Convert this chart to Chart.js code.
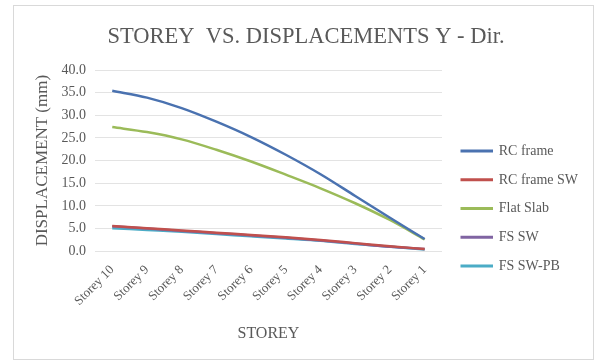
<!DOCTYPE html>
<html>
<head>
<meta charset="utf-8">
<script src="https://cdn.jsdelivr.net/npm/chart.js@4/dist/chart.umd.min.js"></script>
<style>
  html, body { margin: 0; padding: 0; background: #fff; }
  #box { position: absolute; left: 13px; top: 5px; width: 581px; height: 355px; border: 1px solid #d9d9d9; box-sizing: border-box; }
</style>
</head>
<body>
<div id="box"><canvas id="chart"></canvas></div>
<script>
const storeys = ['Storey 10', 'Storey 9', 'Storey 8', 'Storey 7', 'Storey 6', 'Storey 5', 'Storey 4', 'Storey 3', 'Storey 2', 'Storey 1']

const rcFrame = [35.4, 33.9, 31.6, 28.6, 25.2, 21.3, 17.0, 12.2, 7.4, 2.7]
const rcFrameSW = [5.6, 5.1, 4.6, 4.1, 3.6, 3.1, 2.5, 1.8, 1.1, 0.5]
const flatSlab = [27.4, 26.3, 24.7, 22.4, 19.8, 16.9, 13.9, 10.6, 6.9, 2.6]
const fsSW = [5.5, 5.0, 4.5, 4.0, 3.5, 3.0, 2.4, 1.7, 1.0, 0.5]
const fsSWPB = [5.1, 4.7, 4.3, 3.8, 3.3, 2.8, 2.3, 1.6, 1.0, 0.4]

const yTicks = [0, 5, 10, 15, 20, 25, 30, 35, 40]

const SERIF = "'Liberation Serif', 'Times New Roman', serif"
const GREY = '#595959'

const series = [
  { label: 'RC frame', data: rcFrame, color: '#4a72b0' },
  { label: 'RC frame SW', data: rcFrameSW, color: '#c0504d' },
  { label: 'Flat Slab', data: flatSlab, color: '#9bbb59' },
  { label: 'FS SW', data: fsSW, color: '#8064a2' },
  { label: 'FS SW-PB', data: fsSWPB, color: '#4bacc6' }
]

const ctx = document.getElementById('chart').getContext('2d')

new Chart(ctx, {
  type: 'line',
  data: {
    labels: storeys,
    datasets: series.map(s => ({
      label: s.label,
      data: s.data,
      borderColor: s.color,
      backgroundColor: s.color,
      borderWidth: 2.5,
      pointRadius: 0,
      cubicInterpolationMode: 'monotone'
    }))
  },
  options: {
    responsive: true,
    maintainAspectRatio: false,
    animation: false,
    layout: { padding: { left: 10, right: 5, top: 10, bottom: 16 } },
    plugins: {
      title: {
        display: true,
        text: 'STOREY  VS. DISPLACEMENTS Y - Dir.',
        color: GREY,
        font: { family: SERIF, size: 22.5, weight: 'normal' },
        padding: { top: 8, bottom: 19 }
      },
      legend: {
        position: 'right',
        // empty title only pushes the legend items down, as in the original
        title: { display: true, text: '', font: { size: 1 }, padding: { top: 57, bottom: 0 } },
        labels: {
          color: GREY,
          font: { family: SERIF, size: 14 },
          boxWidth: 30,
          boxHeight: 0.5,
          padding: 14.75
        }
      }
    },
    scales: {
      x: {
        offset: true,
        grid: { display: false },
        border: { display: false },
        ticks: {
          color: GREY,
          font: { family: SERIF, size: 13 },
          minRotation: 45,
          maxRotation: 45,
          autoSkip: false
        },
        title: {
          display: true,
          text: 'STOREY',
          color: GREY,
          font: { family: SERIF, size: 16 },
          padding: { top: 12, bottom: 0 }
        }
      },
      y: {
        min: 0,
        max: 40,
        afterBuildTicks: axis => { axis.ticks = yTicks.map(v => ({ value: v })) },
        grid: { color: '#e3e3e3', drawTicks: false },
        border: { display: false },
        ticks: {
          color: GREY,
          font: { family: SERIF, size: 14 },
          padding: 9,
          callback: v => Number(v).toFixed(1)
        },
        title: {
          display: true,
          text: 'DISPLACEMENT (mm)',
          color: GREY,
          font: { family: SERIF, size: 17 },
          padding: { top: 8, bottom: 0 }
        }
      },
      // hidden axis: only keeps a gap between the plot and the legend
      gap: {
        type: 'linear',
        position: 'right',
        display: false,
        afterFit: axis => { axis.width = 5 }
      }
    }
  }
})
</script>
</body>
</html>
